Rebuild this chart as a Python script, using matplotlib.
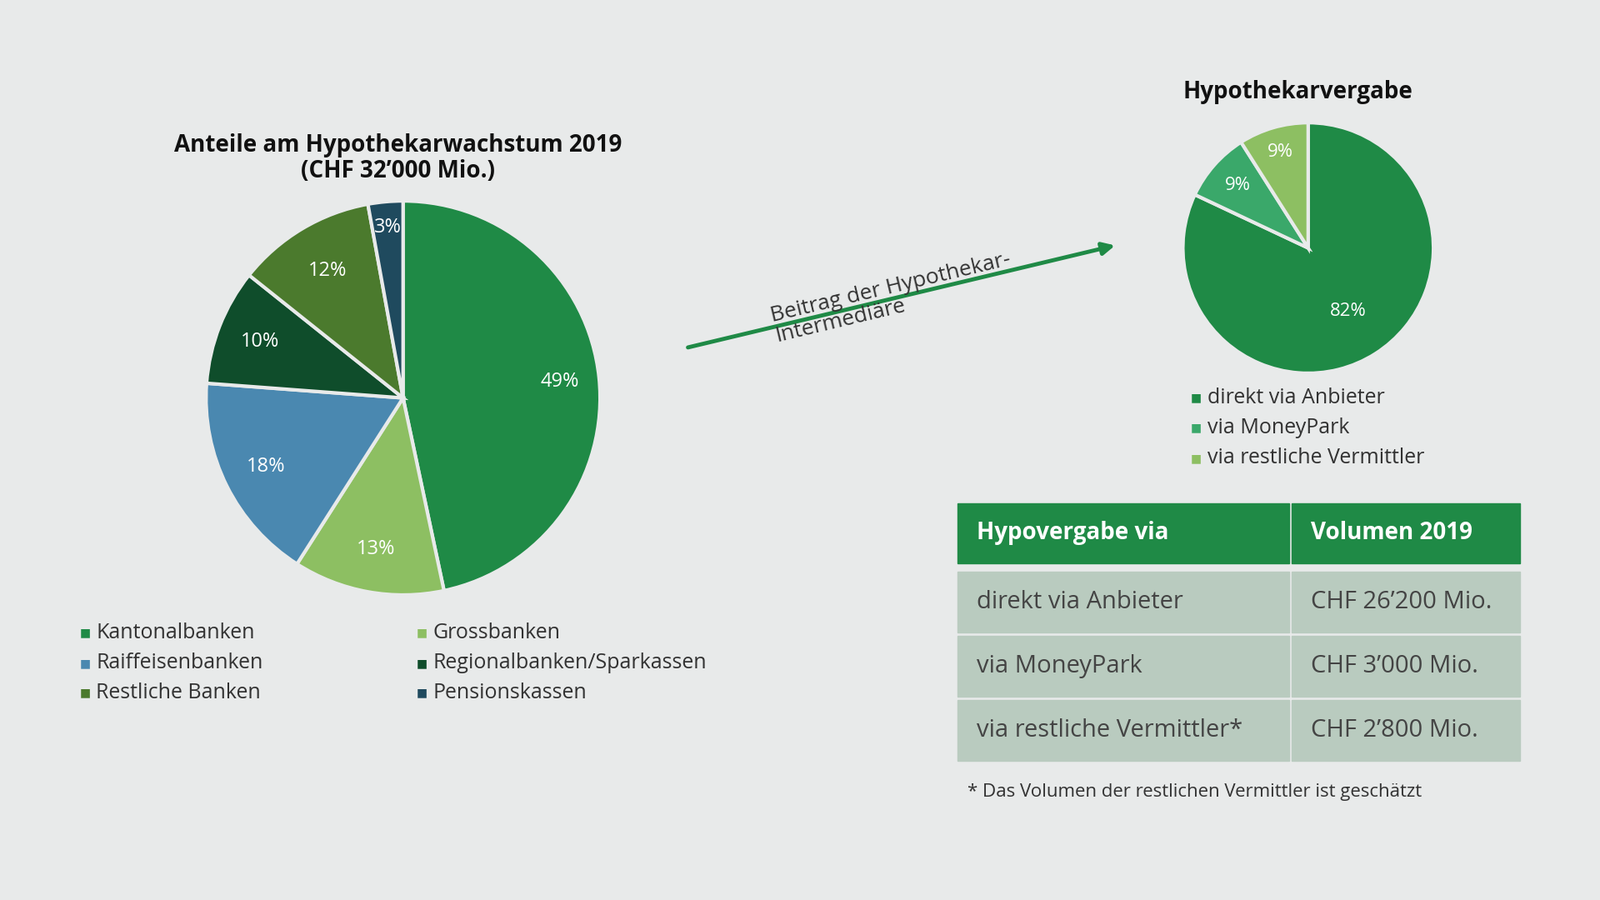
import numpy as np
import matplotlib.pyplot as plt
from matplotlib.patches import Rectangle, FancyArrowPatch

plt.rcParams["font.family"] = "Open Sans"

# data
left_labels = ["Kantonalbanken", "Grossbanken", "Raiffeisenbanken",
               "Regionalbanken/Sparkassen", "Restliche Banken", "Pensionskassen"]
left_values = [49, 13, 18, 10, 12, 3]
left_colors = ["#1f8a46", "#8dbf62", "#4a88b0", "#0f4d2b", "#4b7a2d", "#1f4a5e"]

right_labels = ["direkt via Anbieter", "via MoneyPark", "via restliche Vermittler"]
right_values = [82, 9, 9]
right_colors = ["#1f8a46", "#3aa86a", "#8dbf62"]

table_header = ["Hypovergabe via", "Volumen 2019"]
table_rows = [["direkt via Anbieter", "CHF 26\u2019200 Mio."],
              ["via MoneyPark", "CHF 3\u2019000 Mio."],
              ["via restliche Vermittler*", "CHF 2\u2019800 Mio."]]

BG = "#e8eaea"
TXT = "#333333"
W, H = 1568, 882


def fx(x):
    return x / W


def fy(y):
    return 1 - y / H


fig = plt.figure(figsize=(19.2, 10.8), dpi=100, facecolor=BG)


def pie_axes(cx, cy, r, values, colors, label_r, label_fs):
    ax = fig.add_axes([fx(cx - r), fy(cy + r), 2 * r / W, 2 * r / H])
    wedges, _ = ax.pie(values, colors=colors, startangle=90, counterclock=False,
                       radius=1, wedgeprops=dict(edgecolor=BG, linewidth=3))
    ax.set_xlim(-1.01, 1.01)
    ax.set_ylim(-1.01, 1.01)
    ax.axis("off")
    for w, v, lr in zip(wedges, values, label_r):
        a = np.deg2rad((w.theta1 + w.theta2) / 2)
        ax.text(lr * np.cos(a), lr * np.sin(a), f"{v}%", ha="center", va="center",
                color="white", fontsize=label_fs)
    return ax


pie_axes(395, 390, 195, left_values, left_colors, [0.8, 0.78, 0.78, 0.78, 0.75, 0.87], 17)
pie_axes(1282, 243, 124, right_values, right_colors, [0.6, 0.75, 0.8], 16)

fig.text(fx(390), fy(155), "Anteile am Hypothekarwachstum 2019\n(CHF 32\u2019000 Mio.)",
         ha="center", va="center", fontsize=20, fontweight="bold", color="#111111",
         linespacing=1.1)
fig.text(fx(1272), fy(90), "Hypothekarvergabe", ha="center", va="center",
         fontsize=20, fontweight="bold", color="#111111")


def marker(x, y, color):
    fig.text(fx(x), fy(y), "\u25a0", color=color, fontsize=10, ha="left", va="center",
             fontfamily="DejaVu Sans")


# left legend
pos = [(78, 620), (408, 620), (78, 650), (408, 650), (78, 679), (408, 679)]
for (x, y), i in zip(pos, range(6)):
    marker(x, y, left_colors[i])
    fig.text(fx(x + 16), fy(y), left_labels[i], color=TXT, fontsize=18, ha="left", va="center")

# right legend
for k, lab in enumerate(right_labels):
    y = 390 + k * 29.5
    marker(1167, y, right_colors[k])
    fig.text(fx(1183), fy(y), lab, color=TXT, fontsize=18, ha="left", va="center")

# arrow
fig.patches.append(FancyArrowPatch((fx(672), fy(341)), (fx(1095), fy(240)),
                                   transform=fig.transFigure, arrowstyle="-|>",
                                   mutation_scale=22, color="#1f8a46", linewidth=3.5))
ang = np.degrees(np.arctan2(101, 423))
fig.text(fx(875), fy(292), "Beitrag der Hypothekar-\nIntermediäre", rotation=ang,
         rotation_mode="anchor", ha="center", va="center", fontsize=19, color=TXT,
         multialignment="left", linespacing=1.0)

# table
cols = [938, 1263, 1490]
cells = [(493, 552), (560, 620), (623, 683), (686, 746)]
for r, (y0, y1) in enumerate(cells):
    for c in range(2):
        x0, x1 = cols[c] + (3 if c else 0), cols[c + 1]
        color = "#1f8a46" if r == 0 else "#b9cbbf"
        fig.patches.append(Rectangle((fx(x0), fy(y1)), (x1 - x0) / W, (y1 - y0) / H,
                                     transform=fig.transFigure, color=color))
        if r == 0:
            txt, col, wt, fs = table_header[c], "white", "bold", 20
        else:
            txt, col, wt, fs = table_rows[r - 1][c], "#444444", "normal", 21
        fig.text(fx(x0 + 19), fy((y0 + y1) / 2), txt, color=col, fontweight=wt,
                 fontsize=fs, ha="left", va="center")

fig.text(fx(948), fy(776), "* Das Volumen der restlichen Vermittler ist geschätzt",
         fontsize=16, color=TXT, ha="left", va="center")

fig.savefig("out.png", dpi=100, facecolor=BG)
